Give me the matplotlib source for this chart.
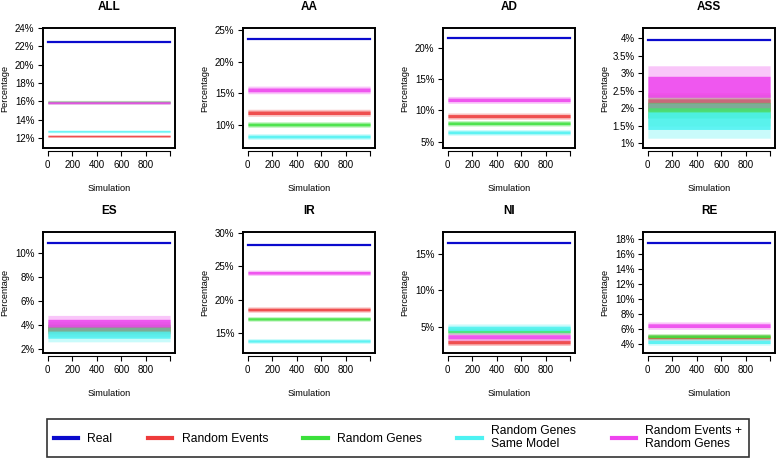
import numpy as np
import matplotlib
matplotlib.use("Agg")
import matplotlib.pyplot as plt
from matplotlib.lines import Line2D
from matplotlib.ticker import FuncFormatter

plt.rcParams['font.family'] = ['Liberation Sans', 'DejaVu Sans']

# ---------------- data (percentages) ----------------
panels = ['ALL', 'AA', 'AD', 'ASS', 'ES', 'IR', 'NI', 'RE']
real = [22.47, 23.55, 21.58, 3.96, 10.83, 28.1, 16.5, 17.55]

# each random series: typical level and half-range of its simulation noise
events_mid = [12.2, 11.95, 9.1, 2.1, 3.6, 18.5, 2.85, 4.85]
events_spread = [0.15, 0.55, 0.5, 0.35, 0.55, 0.4, 0.45, 0.4]
genes_mid = [15.9, 10.1, 7.95, 1.95, 3.75, 17.1, 4.4, 5.0]
genes_spread = [0.2, 0.45, 0.45, 0.45, 0.55, 0.35, 0.5, 0.35]
same_mid = [12.72, 8.2, 6.5, 1.65, 3.2, 13.8, 4.75, 4.25]
same_spread = [0.15, 0.45, 0.45, 0.5, 0.6, 0.35, 0.6, 0.45]
evgenes_mid = [15.85, 15.55, 11.7, 2.62, 4.15, 24.0, 3.6, 6.42]
evgenes_spread = [0.2, 0.6, 0.55, 0.6, 0.65, 0.4, 0.55, 0.5]

y_limits = [(10.9, 24.0), (6.4, 25.3), (4.0, 23.2), (0.87, 4.3),
            (1.67, 11.74), (12.0, 30.1), (1.37, 17.95), (2.75, 18.98)]
y_ticks = [[12, 14, 16, 18, 20, 22, 24], [10, 15, 20, 25], [5, 10, 15, 20],
           [1, 1.5, 2, 2.5, 3, 3.5, 4], [2, 4, 6, 8, 10], [15, 20, 25, 30],
           [5, 10, 15], [4, 6, 8, 10, 12, 14, 16, 18]]
x_ticks = [0, 200, 400, 600, 800, 1000]
x_tick_labels = ['0', '200', '400', '600', '800', '']

legend_labels = ['Real', 'Random Events', 'Random Genes',
                 'Random Genes\nSame Model', 'Random Events +\nRandom Genes']

n_sim = 1000
sim = np.arange(1, n_sim + 1)

# ---------------- style ----------------
C_REAL = '#0A0ACD'
C_EV = '#EE3B3B'
C_GE = '#3BE03B'
C_SAME = '#4DF2F2'
C_EVGE = '#EE44EE'

W, H = 778, 459
fig = plt.figure(figsize=(W / 100, H / 100), dpi=100)

col_left = [43, 243, 443, 643]
row_top = [28, 232]
row_bot = [148, 353]
ax_w = 132


def pct(v, _):
    return f"{v:g}%"


for i, name in enumerate(panels):
    r, c = divmod(i, 4)
    h_px = row_bot[r] - row_top[r]
    ax = fig.add_axes([col_left[c] / W, 1 - row_bot[r] / H, ax_w / W, h_px / H])
    ax.set_xlim(-39, 1040)
    ax.set_ylim(*y_limits[i])

    series = [(events_mid, events_spread, C_EV),
              (genes_mid, genes_spread, C_GE),
              (same_mid, same_spread, C_SAME),
              (evgenes_mid, evgenes_spread, C_EVGE)]
    for mids, sprs, col in series:
        m, s = mids[i], sprs[i]
        ax.fill_between(sim, np.full(n_sim, m - s), np.full(n_sim, m + s),
                        color=col, alpha=0.3, lw=0)
        ax.fill_between(sim, np.full(n_sim, m - 0.5 * s), np.full(n_sim, m + 0.5 * s),
                        color=col, alpha=0.85, lw=0)
    ax.plot(sim, np.full(n_sim, real[i]), color=C_REAL, lw=1.6)

    ax.set_yticks(y_ticks[i])
    ax.yaxis.set_major_formatter(FuncFormatter(pct))
    ax.tick_params(axis='y', length=3.6, width=0.8, labelsize=7, pad=2.5)
    ax.set_xticks([])
    for sp in ax.spines.values():
        sp.set_linewidth(1.4)

    sec = ax.secondary_xaxis('bottom')
    sec.set_xticks(x_ticks, labels=x_tick_labels)
    sec.spines['bottom'].set_position(('outward', 2.2))
    sec.spines['bottom'].set_bounds(0, 1000)
    sec.spines['bottom'].set_linewidth(0.8)
    sec.tick_params(axis='x', length=3.6, width=0.8, labelsize=7, pad=3)

    ax.set_ylabel('Percentage', fontsize=6.6)
    ax.yaxis.set_label_coords(-34 / ax_w, 0.5)
    ax.text(0.5, -36 / h_px, 'Simulation', transform=ax.transAxes,
            ha='center', va='top', fontsize=6.6)
    ax.set_title(name, fontweight='bold', fontsize=8.5, pad=13)

handles = [Line2D([], [], color=c, lw=3) for c in [C_REAL, C_EV, C_GE, C_SAME, C_EVGE]]
leg = fig.legend(handles, legend_labels, loc='lower left',
                 bbox_to_anchor=(47 / W, 2 / H, 702 / W, 38 / H), mode='expand',
                 ncol=5, frameon=True, fancybox=False, edgecolor='black',
                 fontsize=8.7, handlelength=2.0, handletextpad=0.8,
                 borderaxespad=0, borderpad=0.55)
leg.get_frame().set_linewidth(1.2)
for t in leg.get_texts():
    t.set_linespacing(1.1)

fig.savefig('out.png', dpi=100)
